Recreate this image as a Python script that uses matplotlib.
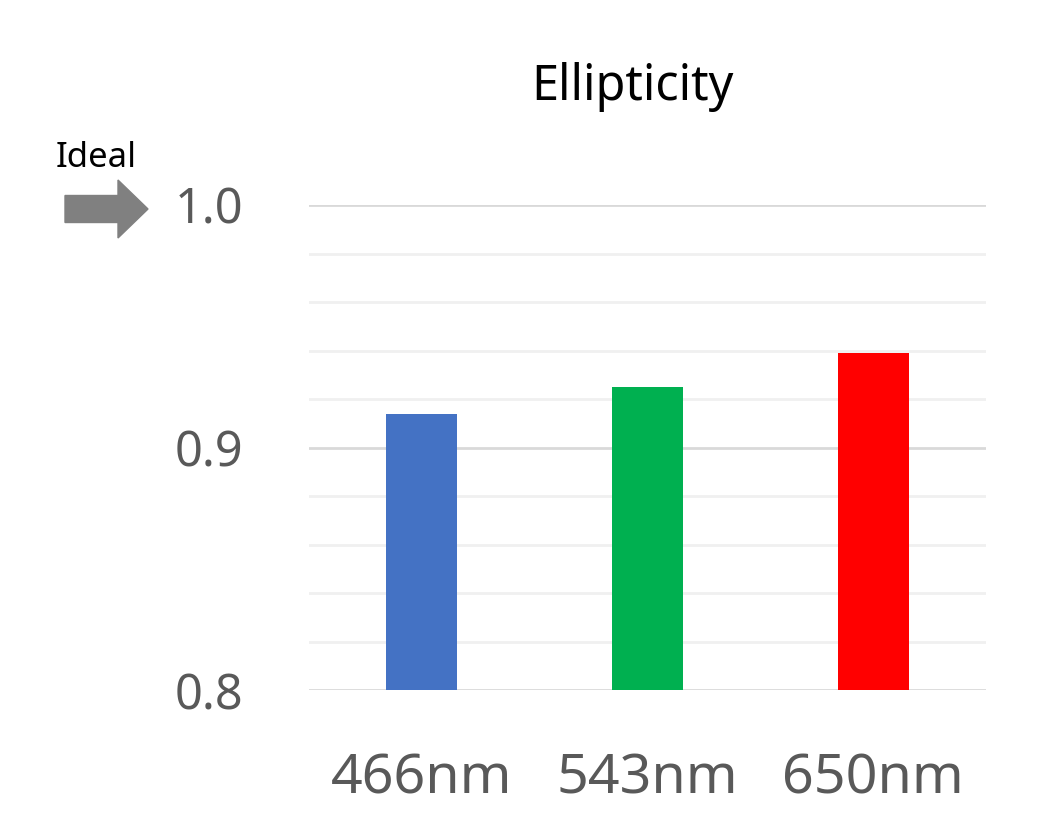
import numpy as np
import matplotlib.pyplot as plt
from matplotlib.patches import FancyArrow

plt.rcParams['font.family'] = ['Noto Sans', 'DejaVu Sans']

labels = ["466nm", "543nm", "650nm"]
values = [0.914, 0.925, 0.939]
colors = ["#4472c4", "#00b050", "#ff0000"]

fig = plt.figure(figsize=(10.37, 8.39), dpi=100)
ax = fig.add_axes([309 / 1037, 149 / 839, 677 / 1037, 485 / 839])

x = np.arange(len(labels))
ax.bar(x, np.array(values) - 0.8, bottom=0.8, width=0.315, color=colors, zorder=3)

ax.set_xlim(-0.5, 2.5)
ax.set_ylim(0.8, 1.0)
ax.set_yticks([0.8, 0.9, 1.0])
ax.set_yticklabels(["0.8", "0.9", "1.0"])
ax.set_yticks(np.arange(0.82, 1.0, 0.02), minor=True)
ax.set_xticks(x)
ax.set_xticklabels(labels)

ax.grid(axis="y", which="major", color="#d9d9d9", linewidth=2, zorder=0)
ax.grid(axis="y", which="minor", color="#f0f0f0", linewidth=2, zorder=0)
ax.tick_params(axis="y", which="both", length=0, pad=47, labelsize=35, labelcolor="#595959")
ax.tick_params(axis="x", length=0, pad=44, labelsize=40, labelcolor="#595959")
for s in ax.spines.values():
    s.set_visible(False)

fig.text(632 / 1037, 1 - 87 / 839, "Ellipticity", ha="center", va="center", fontsize=35, color="black")
fig.text(96 / 1037, 1 - 158 / 839, "Ideal", ha="center", va="center", fontsize=25, color="black")

arrow = FancyArrow(0.65, 6.30, 0.83, 0, width=0.27, head_width=0.58, head_length=0.30,
                   length_includes_head=True, color="#808080", transform=fig.dpi_scale_trans)
fig.patches.append(arrow)

fig.savefig("out.png", dpi=100)
